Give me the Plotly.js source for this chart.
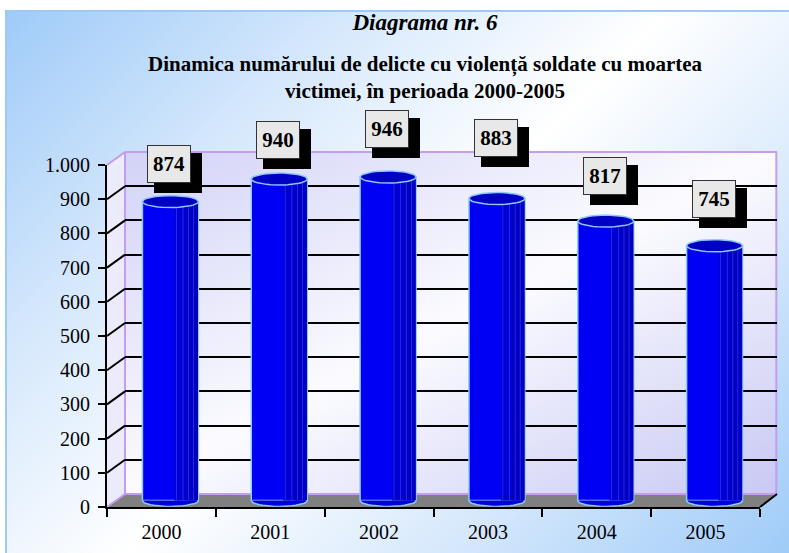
<!DOCTYPE html>
<html><head><meta charset="utf-8">
<script src="https://cdn.plot.ly/plotly-3.0.1.min.js"></script>
<style>
html,body{margin:0;padding:0;background:#fff;}
#bg{position:absolute;left:5px;top:10px;width:782px;height:541px;border-left:2px solid #9cc9f7;border-top:2px solid #9cc9f7;
background:linear-gradient(135deg,#9fcbf8 0%,#d4e7fc 25%,#ffffff 50%,#d4e7fc 75%,#9fcbf8 100%);}
#chart{position:absolute;left:0;top:0;width:789px;height:553px;}
</style></head>
<body><div id="bg"></div><div id="chart"></div>
<script>
// ---- data ----
const years = ['2000','2001','2002','2003','2004','2005'];
const values = [874, 940, 946, 883, 817, 745];
const yTickVals = [0,100,200,300,400,500,600,700,800,900,1000];
const gridVals = [100,200,300,400,500,600,700,800,900];
const titleText = 'Diagrama nr. 6';
const subtitleText = 'Dinamica numărului de delicte cu violență soldate cu moartea<br>victimei, în perioada 2000-2005';

// ---- geometry (pixels) ----
const W=789, H=553, L=107, FR=760, BR=777, B=507, TOP=152, DX=18, DY=13;
const PW = BR-L, PH = B-TOP;
const K = 342/1000;                 // px per unit on value axis
const fx = p => (p-L)/PW;
const fy = p => (B-p)/PH;
const yFront = v => B - K*v;
const labelLiftPx = [44,46,54,67,52,53]; // label placement tweak (pixels above value)
const FONT = "'Liberation Serif', 'Times New Roman', serif";

const idx = years.map((_,i)=>i);
const barW = 0.514;
const capH = 6/K;

let capX=[],capY=[],botX=[],botY=[];
values.forEach((v,i)=>{
  for(let a=0;a<=40;a++){const t=2*Math.PI*a/40; capX.push(i+barW/2*Math.cos(t)); capY.push(v+capH*Math.sin(t));}
  capX.push(null); capY.push(null);
  for(let a=0;a<=20;a++){const t=Math.PI+Math.PI*a/20; botX.push(i+barW/2*Math.cos(t)); botY.push(capH*Math.sin(t));}
  botX.push(null); botY.push(null);
});

const outline = '#8cc8f8';
const data = [
  {type:'scatter', x:years, y:values, xaxis:'x', yaxis:'y', mode:'markers', marker:{opacity:0}, hoverinfo:'skip'},
  {type:'scatter', x:idx, y:values, xaxis:'x2', yaxis:'y2', mode:'markers', marker:{opacity:0}, hoverinfo:'skip'},
  {type:'bar', x:idx, y:values, xaxis:'x3', yaxis:'y3', width:barW, offset:-barW/2,
   marker:{color:'#0000f4', line:{color:outline, width:1.5}}},
  {type:'bar', x:idx, y:values, xaxis:'x3', yaxis:'y3', width:barW*0.42, offset:barW/2-barW*0.42-0.004,
   marker:{color:'#0000d2', line:{width:0}}},
  {type:'bar', x:idx, y:values, xaxis:'x3', yaxis:'y3', width:barW*0.22, offset:barW/2-barW*0.22-0.004,
   marker:{color:'#0000c0', line:{width:0}}}
];
[0.60,0.72,0.82,0.91].forEach(f=>{
  data.push({type:'bar', x:idx, y:values, xaxis:'x3', yaxis:'y3', width:0.006, offset:-barW/2+barW*f,
    marker:{color:'#3a3aff', line:{width:0}}});
});
data.push(
  {type:'scatter', x:botX, y:botY, xaxis:'x3', yaxis:'y3', mode:'lines', fill:'toself', fillcolor:'#0000dc',
   line:{color:outline, width:1.5}, hoverinfo:'skip'},
  {type:'scatter', x:capX, y:capY, xaxis:'x3', yaxis:'y3', mode:'lines', fill:'toself', fillcolor:'#0000c4',
   line:{color:outline, width:1.5}, hoverinfo:'skip'}
);

// back wall gradient
const svg = "<svg xmlns='http://www.w3.org/2000/svg' viewBox='0 0 100 100' preserveAspectRatio='none' width='100' height='100'>"+
 "<defs><linearGradient id='g' x1='0' y1='0' x2='1' y2='1'><stop offset='0' stop-color='#d2d2f7'/>"+
 "<stop offset='0.5' stop-color='#fbfbff'/><stop offset='1' stop-color='#c8c8f4'/></linearGradient></defs>"+
 "<rect width='100' height='100' fill='url(#g)'/></svg>";
const images = [{source:'data:image/svg+xml;charset=utf-8,'+encodeURIComponent(svg), xref:'paper', yref:'paper',
  x:fx(L+DX), y:fy(TOP), sizex:1-fx(L+DX), sizey:fy(TOP)-fy(B-DY), sizing:'stretch', layer:'below', xanchor:'left', yanchor:'top'}];

const lav = '#c49cf0';
const P = (x,y)=>fx(x).toFixed(5)+','+fy(y).toFixed(5);
const shapes = [
  {type:'path', xref:'paper', yref:'paper', layer:'below', line:{width:0}, fillcolor:'#ebebfb',
   path:'M'+P(L,B)+' L'+P(L+DX,B-DY)+' L'+P(L+DX,TOP)+' L'+P(L,yFront(1000))+' Z'},
  {type:'path', xref:'paper', yref:'paper', layer:'below', line:{width:0}, fillcolor:'#808080',
   path:'M'+P(L,B)+' L'+P(FR,B)+' L'+P(BR,B-DY)+' L'+P(L+DX,B-DY)+' Z'},
  {type:'line', xref:'paper', yref:'paper', layer:'below', x0:fx(L+DX), y0:fy(TOP), x1:fx(BR), y1:fy(TOP), line:{color:lav,width:2}},
  {type:'line', xref:'paper', yref:'paper', layer:'below', x0:fx(BR)-0.001, y0:fy(TOP), x1:fx(BR)-0.001, y1:fy(B-DY), line:{color:lav,width:2}},
  {type:'line', xref:'paper', yref:'paper', layer:'below', x0:fx(L+DX), y0:fy(TOP), x1:fx(L+DX), y1:fy(B-DY), line:{color:lav,width:2}},
  {type:'line', xref:'paper', yref:'paper', layer:'below', x0:fx(L+DX), y0:fy(B-DY), x1:fx(BR), y1:fy(B-DY), line:{color:lav,width:2}},
  {type:'line', xref:'paper', yref:'paper', layer:'below', x0:fx(L), y0:fy(yFront(1000)), x1:fx(L+DX), y1:fy(TOP), line:{color:lav,width:2}},
  {type:'line', xref:'paper', yref:'paper', layer:'below', x0:fx(L), y0:fy(B), x1:fx(L+DX), y1:fy(B-DY), line:{color:lav,width:2}},
  {type:'line', xref:'paper', yref:'paper', layer:'above', x0:fx(FR), y0:fy(B), x1:fx(BR), y1:fy(B-DY), line:{color:'#000',width:2}}
];
gridVals.forEach(v=>{
  shapes.push({type:'line', xref:'paper', yref:'paper', layer:'below',
    x0:fx(L), y0:fy(yFront(v)), x1:fx(L+DX), y1:fy(yFront(v)-DY), line:{color:'#000',width:2}});
});

// value labels, referenced to the back-wall axes (x2: linear index, y2: values)
const frontStep = (FR-L)/years.length, backStep = (BR-L-DX)/years.length;
const annotations = [];
values.forEach((v,i)=>{
  const xs = (L + (i+0.5)*frontStep + 8) - (L + DX + (i+0.5)*backStep);
  const ys = labelLiftPx[i] - DY;
  // drop shadow (blank box)
  annotations.push({xref:'x2', yref:'y2', x:i, y:v, xshift:xs+9, yshift:ys-9, showarrow:false,
    text:'&nbsp;', width:38, height:30, font:{size:21, family:FONT},
    bgcolor:'#000', bordercolor:'#000', borderwidth:1, borderpad:4});
  annotations.push({xref:'x2', yref:'y2', x:i, y:v, xshift:xs, yshift:ys, showarrow:false,
    text:'<b>'+v+'</b>', width:34, height:28, font:{size:21, color:'#000', family:FONT},
    bgcolor:'#e8e8e8', bordercolor:'#333', borderwidth:1, borderpad:4});
});
annotations.push({xref:'paper', yref:'paper', x:fx(425), y:fy(77), xanchor:'center', yanchor:'middle', showarrow:false,
  text:'<b>'+subtitleText+'</b>', font:{size:21, color:'#000', family:FONT}, align:'center'});

const layout = {
  width:W, height:H, margin:{l:L, r:W-BR, t:TOP, b:H-B, pad:0},
  paper_bgcolor:'rgba(0,0,0,0)', plot_bgcolor:'rgba(0,0,0,0)',
  showlegend:false, separators:',.', barmode:'overlay',
  font:{family:FONT, color:'#000', size:20},
  title:{text:'<b><i>'+titleText+'</i></b>', font:{size:23, color:'#000', family:FONT}, x:425/W, xref:'container', xanchor:'center',
         y:1-22/H, yref:'container', yanchor:'middle'},
  xaxis:{domain:[0,fx(FR)], anchor:'y', type:'category', range:[-0.5,5.5], showline:true, linecolor:'#000', linewidth:2,
         ticks:'outside', tickson:'boundaries', ticklen:8, tickwidth:2, tickcolor:'#000', showgrid:false, zeroline:false,
         tickfont:{size:20, family:FONT}, ticklabelstandoff:6},
  yaxis:{domain:[0,fy(yFront(1000))], anchor:'x', range:[0,1000], tickvals:yTickVals, tickformat:',d', showline:true,
         linecolor:'#000', linewidth:2, ticks:'outside', ticklen:7, tickwidth:2, tickcolor:'#000', showgrid:false,
         zeroline:false, ticklabelstandoff:4, tickfont:{size:20, family:FONT}},
  xaxis2:{domain:[fx(L+DX),1], anchor:'y2', range:[-0.5,5.5], showticklabels:false, showline:false, showgrid:false,
          zeroline:false, ticks:''},
  yaxis2:{domain:[fy(B-DY), fy(TOP)], anchor:'x2', range:[0,1000], tickvals:gridVals, showticklabels:false, ticks:'',
          showgrid:true, gridcolor:'#000', gridwidth:2, zeroline:false, showline:false},
  xaxis3:{domain:[fx(L+DX/2), fx(FR+DX/2)], anchor:'y3', range:[-0.5,5.5], visible:false},
  yaxis3:{domain:[fy(B-DY/2+18*K), fy(B-DY/2-1000*K)], anchor:'x3', range:[-18,1000], visible:false},
  images:images, shapes:shapes, annotations:annotations
};
Plotly.newPlot('chart', data, layout, {staticPlot:true, displayModeBar:false});
</script></body></html>
